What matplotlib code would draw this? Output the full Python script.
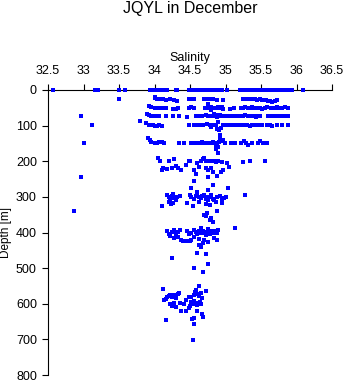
import matplotlib
matplotlib.use("Agg")
import matplotlib.pyplot as plt

plt.rcParams['font.family'] = ['Liberation Sans', 'DejaVu Sans']

# --- data: salinity / depth observations ---
surf_sal = [32.57, 33.16, 33.20, 33.50, 33.58, 33.94, 33.96, 33.98, 34.00, 34.02, 34.04, 34.06,
            34.08, 34.10, 34.12, 34.14, 34.18, 34.30, 34.32, 34.48, 34.50, 34.52, 34.54, 34.56,
            34.58, 34.60, 34.62, 34.64, 34.66, 34.68, 34.70, 34.72, 34.74, 34.76, 34.78, 34.80,
            34.82, 34.84, 34.86, 34.88, 34.90, 34.92, 34.95, 35.02, 35.20, 35.22, 35.24, 35.27,
            35.30, 35.32, 35.34, 35.37, 35.40, 35.43, 35.46, 35.51, 35.53, 35.55, 35.57, 35.60,
            35.62, 35.64, 35.66, 35.68, 35.70, 35.72, 35.75, 35.78, 35.80, 35.82, 35.85, 35.88,
            35.91, 35.94, 36.09]
surf_depth = [0] * len(surf_sal)

upper_pts = [(34.00,20),(34.01,23),(34.03,26),(34.06,26),(34.09,26),(34.12,26),(34.16,27),(34.22,26),
             (34.27,28),(34.31,31),(33.50,25),(34.48,26),(34.52,26),(34.55,26),(34.70,26),(34.72,25),
             (34.74,24),(34.76,25),(34.78,26),(34.80,25),(34.82,26),(34.76,38),(34.88,27),(34.96,28),
             (35.24,26),(35.27,26),(35.30,26),(35.33,26),(35.36,25),(35.39,26),(35.42,26),(35.45,27),
             (35.48,26),(35.51,27),(35.54,28),(35.57,29),(35.60,30),(35.63,31),(35.66,33),(35.70,30),
             (35.73,28),
             (33.92,44),(33.95,47),(34.00,50),(34.05,50),(34.10,50),(34.16,50),(34.26,52),(34.30,53),
             (34.33,51),(34.49,50),(34.52,47),(34.56,50),(34.71,51),(34.74,50),(34.77,49),(34.80,48),
             (34.83,50),(34.86,51),(34.89,48),(34.92,50),(34.95,49),(34.97,52),(34.80,57),(35.06,52),
             (35.12,51),(35.22,50),(35.25,50),(35.28,49),(35.31,50),(35.34,50),(35.37,49),(35.40,50),
             (35.43,50),(35.46,51),(35.49,50),(35.52,52),(35.55,50),(35.58,48),(35.64,50),(35.70,50),
             (35.73,49),(35.76,50),(35.80,50),(35.84,49),(35.88,50),
             (33.90,68),(33.92,71),(33.95,72),(33.98,73),(34.01,73),(34.04,74),(34.07,73),(34.16,74),
             (34.26,73),(34.35,74),(34.46,75),(34.58,73),(34.61,73),(34.64,72),(34.67,74),(34.73,70),
             (34.76,73),(34.79,72),(34.82,73),(34.84,67),(34.86,71),(34.88,75),(34.90,73),(34.92,70),
             (34.95,74),(34.98,73),(35.01,72),(35.04,73),(35.07,74),(35.10,72),(35.13,73),(35.16,74),
             (35.19,73),(35.22,72),(35.25,73),(35.28,71),(35.31,73),(35.34,72),(35.37,74),(35.40,73),
             (35.43,76),(35.46,73),(35.49,72),(35.60,73),(35.64,72),(35.68,73),(35.72,73),(35.76,73),
             (35.80,72),(35.84,73),(35.88,73),(32.97,73)]

mid_pts = [(33.12,98),(33.80,88),(33.88,93),(33.92,97),(33.95,99),(33.98,98),(34.01,100),(34.04,100),
           (34.07,99),(34.10,100),(34.48,98),(34.55,98),(34.59,97),(34.63,98),(34.66,99),(34.69,98),
           (34.74,95),(34.78,99),(34.80,103),(34.83,97),(34.86,98),(34.88,110),(34.91,112),(34.94,107),
           (34.89,90),(34.96,97),(35.00,98),(35.05,97),(35.10,98),(35.15,99),(35.20,98),(35.25,97),
           (35.30,99),(35.34,100),(35.38,98),(35.43,99),(35.47,98),(35.52,99),(35.58,99),(35.62,97),
           (35.66,100),(35.72,98),(35.80,98),(35.88,98),(34.92,125),
           (33.00,148),(33.91,135),(33.93,140),(33.95,145),(34.00,148),(34.03,150),(34.06,147),
           (34.10,146),(34.14,148),(34.35,150),(34.42,150),(34.52,148),(34.56,149),(34.60,149),
           (34.64,148),(34.67,147),(34.70,149),(34.73,150),(34.76,148),(34.79,149),(34.82,147),
           (34.85,150),(34.88,148),(34.91,146),(34.94,143),(34.96,140),(34.99,149),(34.86,155),
           (34.89,160),(34.87,165),(34.90,178),(34.92,135),(35.08,150),(35.14,150),(35.22,148),
           (35.26,144),(35.29,150),(35.31,153),(35.38,150),(35.46,148),(35.49,144),(35.53,148),
           (35.58,150),
           (34.05,190),(34.08,198),(34.20,198),(34.28,195),(34.12,220),(34.10,225),(34.18,222),
           (34.25,220),(34.30,213),(34.33,218),(34.38,225),(34.45,210),(34.48,200),(34.50,198),
           (34.60,205),(34.62,215),(34.65,200),(34.68,195),(34.70,190),(34.72,198),(34.75,200),
           (34.78,200),(34.81,200),(34.84,200),(34.87,201),(34.90,200),(34.95,202),(35.02,205),
           (34.55,225),(34.58,235),(34.72,218),(34.76,225),(34.80,220),(34.83,230),(34.88,240),
           (34.93,230),(34.97,224),(35.05,216),(35.25,203),(35.35,198),(35.56,200),(32.96,245),
           (34.75,245),(34.55,255),(34.82,268),(34.52,275),(34.75,280),(34.60,285),(35.03,275)]

deep_pts = [(34.18,295),(34.20,300),(34.22,305),(34.24,298),(34.26,292),(34.28,302),(34.20,315),
            (34.23,320),(34.26,318),(34.30,310),(34.32,300),(34.36,298),(34.50,295),(34.52,300),
            (34.55,305),(34.58,297),(34.60,292),(34.62,300),(34.65,302),(34.67,298),(34.70,296),
            (34.72,305),(34.74,300),(34.76,310),(34.78,300),(34.80,295),(34.82,305),(34.84,310),
            (34.88,300),(34.92,298),(34.95,305),(34.98,302),(34.46,318),(34.54,325),(34.62,315),
            (34.72,320),(34.78,322),(34.86,315),(34.95,318),(35.00,300),(35.28,295),(34.10,325),
            (34.88,340),(32.86,340),
            (34.70,350),(34.73,355),(34.78,365),(34.82,370),(34.80,360),(34.74,345),
            (34.17,395),(34.20,403),(34.22,410),(34.25,398),(34.28,392),(34.30,405),(34.33,398),
            (34.36,392),(34.38,420),(34.40,425),(34.28,415),(34.33,412),(34.46,395),(34.49,405),
            (34.52,400),(34.55,392),(34.58,398),(34.60,405),(34.62,395),(34.64,402),(34.66,388),
            (34.68,396),(34.70,400),(34.72,408),(34.74,398),(34.76,390),(34.78,403),(34.80,395),
            (34.82,402),(34.85,396),(34.88,400),(34.90,392),(34.56,412),(34.62,418),(34.70,420),
            (34.75,428),(34.84,415),(34.88,420),(34.52,420),(35.13,386),(34.62,435),(34.66,440),
            (34.68,430),(34.60,458),(34.72,460),(34.24,472),(34.76,488),(34.56,500),(34.68,511),
            (34.50,425),(34.45,424),
            (34.13,590),(34.16,588),(34.18,582),(34.20,578),(34.22,575),(34.25,580),(34.28,576),
            (34.30,583),(34.33,572),(34.35,570),(34.22,600),(34.25,605),(34.28,598),(34.30,610),
            (34.36,598),(34.38,620),(34.44,620),(34.48,612),(34.12,558),(34.42,600),(34.45,590),
            (34.50,605),(34.52,595),(34.54,600),(34.56,592),(34.58,598),(34.60,604),(34.62,600),
            (34.64,596),(34.66,602),(34.55,575),(34.57,568),(34.60,572),(34.63,578),(34.65,570),
            (34.58,560),(34.62,550),(34.67,585),(34.72,565),(34.52,580),(34.60,620),(34.48,582),
            (34.16,646),(34.53,642),(34.56,641),(34.56,656),(34.67,630),(34.68,636),(34.54,702)]

x_ticks = [32.5, 33, 33.5, 34, 34.5, 35, 35.5, 36, 36.5]
x_tick_labels = ["32.5", "33", "33.5", "34", "34.5", "35", "35.5", "36", "36.5"]
y_ticks = [0, 100, 200, 300, 400, 500, 600, 700, 800]

fig = plt.figure(figsize=(3.46, 3.84), dpi=100)
ax = fig.add_axes([48/346, 1 - 375/384, (332 - 48)/346, (375 - 90)/384])

ax.scatter(surf_sal, surf_depth, s=5, marker='s', color='#0000ff', linewidths=0,
           clip_on=False, zorder=5)
for pts in (upper_pts, mid_pts, deep_pts):
    ax.scatter([p[0] for p in pts], [p[1] for p in pts], s=5, marker='s',
               color='#0000ff', linewidths=0, clip_on=False, zorder=5)

ax.set_xlim(32.5, 36.5)
ax.set_ylim(800, 0)
ax.xaxis.set_ticks_position('top')
ax.xaxis.set_label_position('top')
ax.set_xticks(x_ticks)
ax.set_xticklabels(x_tick_labels)
ax.set_yticks(y_ticks)
ax.spines['right'].set_visible(False)
ax.spines['bottom'].set_visible(False)
for s in ('top', 'left'):
    ax.spines[s].set_linewidth(0.8)
ax.tick_params(axis='both', direction='out', length=4, width=0.8, labelsize=9, pad=4)
ax.tick_params(axis='x', pad=5)
ax.set_xlabel("Salinity", fontsize=9, labelpad=3)
ax.set_ylabel("Depth [m]", fontsize=8.5, labelpad=3)
fig.text(190/346, 1 - 9/384, "JQYL in December", ha='center', va='center', fontsize=11.5)

fig.savefig("out.png", dpi=100)
